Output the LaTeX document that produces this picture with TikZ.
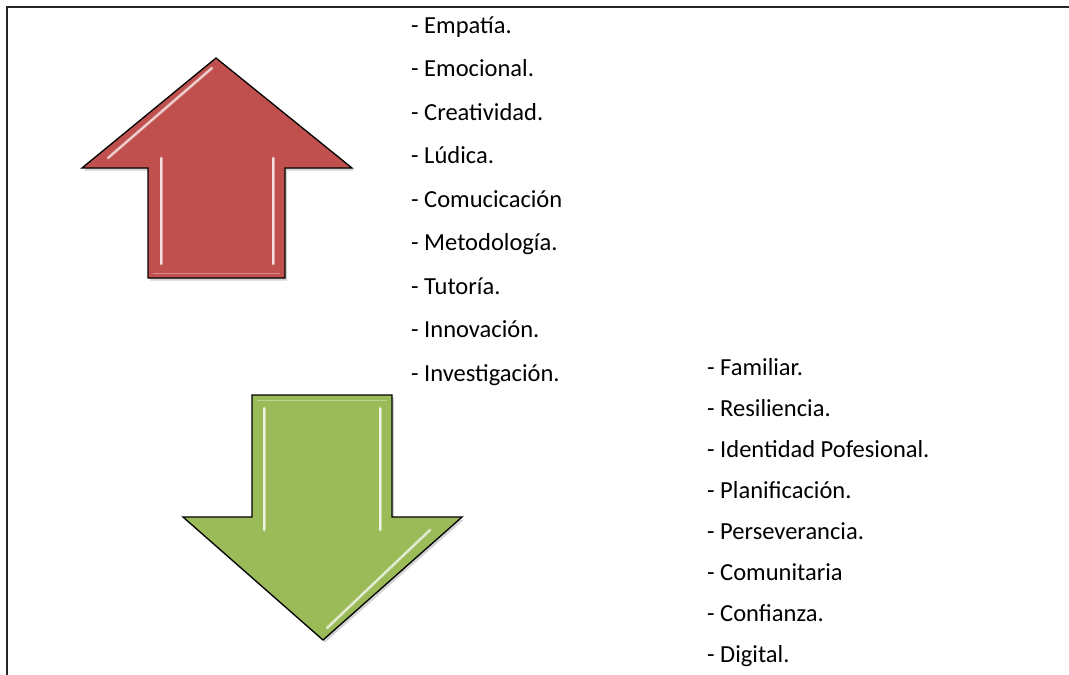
\documentclass[tikz,border=0pt]{standalone}
\usepackage{fontspec}
\setmainfont{Carlito}
\usetikzlibrary{shadows}
\definecolor{arrred}{HTML}{C0504D}
\definecolor{arrgreen}{HTML}{9BBB59}
\begin{document}
\begin{tikzpicture}[x=1pt,y=-1pt,
  item/.style={anchor=base west,inner sep=0pt,font=\fontsize{24.5}{28}\selectfont},
  arrowshape/.style={draw=black,line width=1.3pt,line join=miter,
     drop shadow={opacity=0.35,shadow xshift=2pt,shadow yshift=-2.5pt}},
  glint/.style={line width=3pt,white,opacity=0.45,line cap=round},
  glintthin/.style={line width=1.2pt,white,opacity=0.7,line cap=round}]
\useasboundingbox (0,0) rectangle (1069,675);
% frame
\draw[line width=1.6pt,black!85] (1069,7) -- (7,7) -- (7,675);
% red up arrow
\path[arrowshape,fill=arrred] (216,58) -- (352,168) -- (285,168) -- (285,278) -- (148,278) -- (148,168) -- (82,168) -- cycle;
\draw[glint] (161,158) -- (161,264);
\draw[glintthin] (161,158) -- (161,264);
\draw[glint] (273,158) -- (273,264);
\draw[glintthin] (273,158) -- (273,264);
\draw[glint] (212,68) -- (108,158);
\draw[glintthin] (212,68) -- (108,158);
\draw[line width=1pt,white,opacity=0.35] (153,273) -- (280,273);
% green down arrow
\path[arrowshape,fill=arrgreen] (252,395) -- (392,395) -- (392,517) -- (462,517) -- (323,640) -- (183,517) -- (252,517) -- cycle;
\draw[glint] (264,408) -- (264,530);
\draw[glintthin] (264,408) -- (264,530);
\draw[glint] (380,408) -- (380,530);
\draw[glintthin] (380,408) -- (380,530);
\draw[glint] (430,530) -- (327,628);
\draw[glintthin] (430,530) -- (327,628);
\draw[line width=1pt,white,opacity=0.35] (257,400) -- (387,400);
% left list
\node[item] (l1) at (411,33) {- Empatía.};
\node[item] (l2) at (411,76.5) {- Emocional.};
\node[item] (l3) at (411,120) {- Creatividad.};
\node[item] (l4) at (411,163.5) {- Lúdica.};
\node[item] (l5) at (411,207) {- Comucicación};
\node[item] (l6) at (411,250.5) {- Metodología.};
\node[item] (l7) at (411,294) {- Tutoría.};
\node[item] (l8) at (411,337.5) {- Innovación.};
\node[item] (l9) at (411,381) {- Investigación.};
% right list
\node[item] (r1) at (707,375) {- Familiar.};
\node[item] (r2) at (707,416) {- Resiliencia.};
\node[item] (r3) at (707,457) {- Identidad Pofesional.};
\node[item] (r4) at (707,498) {- Planificación.};
\node[item] (r5) at (707,539) {- Perseverancia.};
\node[item] (r6) at (707,580) {- Comunitaria};
\node[item] (r7) at (707,621) {- Confianza.};
\node[item] (r8) at (707,662) {- Digital.};
\end{tikzpicture}
\end{document}
